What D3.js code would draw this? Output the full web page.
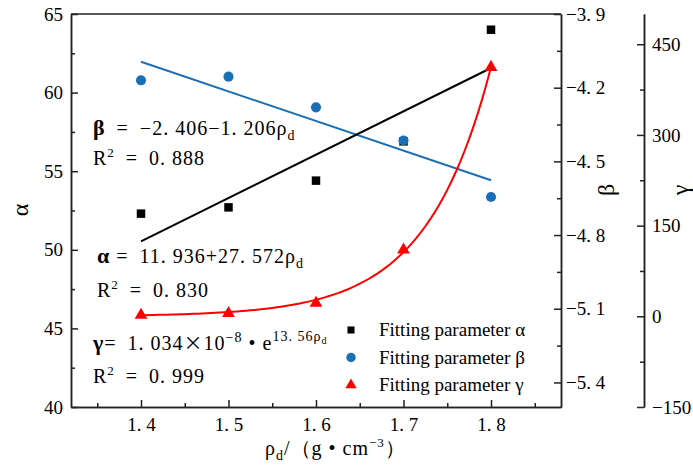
<!DOCTYPE html>
<html>
<head>
<meta charset="utf-8">
<script src="https://cdn.jsdelivr.net/npm/d3@7"></script>
<style>
  body { margin: 0; background: #fff; }
  text { font-family: "Liberation Serif", "DejaVu Serif", serif; fill: #000; }
</style>
</head>
<body>
<div id="chart"></div>
<script>
const density = [1.4, 1.5, 1.6, 1.7, 1.8];
const alphaVals = [52.3, 52.7, 54.4, 56.9, 64.0];
const betaVals = [-4.17, -4.155, -4.28, -4.415, -4.645];
const gammaVals = [2, 5, 22, 110, 412];

const alphaFit = [11.936, 27.572];
const betaFit = [-2.406, -1.206];
const gammaFit = [1.034e-8, 13.56];

const xTicks = [1.4, 1.5, 1.6, 1.7, 1.8];
const xMinor = [1.35, 1.45, 1.55, 1.65, 1.75, 1.85];
const alphaTicks = [40, 45, 50, 55, 60, 65];
const alphaMinor = [42.5, 47.5, 52.5, 57.5, 62.5];
const betaTicks = [-3.9, -4.2, -4.5, -4.8, -5.1, -5.4];
const betaMinor = [-4.05, -4.35, -4.65, -4.95, -5.25];
const gammaTicks = [-150, 0, 150, 300, 450];
const gammaMinor = [-75, 75, 225, 375];

const W = 693, H = 469;
const L = 71, R = 561, T = 14, B = 407;
const blue = "#1a6fb5", red = "#ff0000";

const svg = d3.select("#chart").append("svg")
  .attr("width", W)
  .attr("height", H);

const x = d3.scaleLinear().domain([1.32, 1.88]).range([L, R]);
const yA = d3.scaleLinear().domain([40, 65]).range([B, T]);
const yB = d3.scaleLinear().domain([-5.5, -3.9]).range([B, T]);
const yG = d3.scaleLinear().domain([-150, 500]).range([B, T]);

const fmt1 = (d) => d3.format(".1f")(d).replace(".", ". ");

const styleAxis = (g) => {
  g.selectAll("path, line").attr("stroke", "#222").attr("stroke-width", 1.5);
  g.selectAll("text").attr("font-size", 19).attr("fill", "#222");
};

// bottom
svg.append("g").attr("transform", `translate(0,${B})`)
  .call(d3.axisBottom(x).tickValues(xTicks).tickSize(-7).tickSizeOuter(0).tickPadding(11).tickFormat(fmt1))
  .call(styleAxis);
svg.append("g").attr("transform", `translate(0,${B})`)
  .call(d3.axisBottom(x).tickValues(xMinor).tickSize(-4).tickSizeOuter(0).tickFormat(""))
  .call(styleAxis);

// left alpha
svg.append("g").attr("transform", `translate(${L},0)`)
  .call(d3.axisLeft(yA).tickValues(alphaTicks).tickSize(-7).tickSizeOuter(0).tickPadding(8))
  .call(styleAxis);
svg.append("g").attr("transform", `translate(${L},0)`)
  .call(d3.axisLeft(yA).tickValues(alphaMinor).tickSize(-4).tickSizeOuter(0).tickFormat(""))
  .call(styleAxis);

// right beta
svg.append("g").attr("transform", `translate(${R},0)`)
  .call(d3.axisRight(yB).tickValues(betaTicks).tickSize(-7).tickSizeOuter(0).tickPadding(5).tickFormat(fmt1))
  .call(styleAxis);
svg.append("g").attr("transform", `translate(${R},0)`)
  .call(d3.axisRight(yB).tickValues(betaMinor).tickSize(-4).tickSizeOuter(0).tickFormat(""))
  .call(styleAxis);

// offset gamma axis
const gx = 644;
svg.append("g").attr("transform", `translate(${gx},0)`)
  .call(d3.axisRight(yG).tickValues(gammaTicks).tickSize(-7).tickSizeOuter(0).tickPadding(8).tickFormat(d3.format("d")))
  .call(styleAxis);
svg.append("g").attr("transform", `translate(${gx},0)`)
  .call(d3.axisRight(yG).tickValues(gammaMinor).tickSize(-4).tickSizeOuter(0).tickFormat(""))
  .call(styleAxis);

svg.append("line")
  .attr("x1", L).attr("x2", R).attr("y1", T).attr("y2", T)
  .attr("stroke", "#222").attr("stroke-width", 1.5);

// axis titles
svg.append("text").attr("transform", "translate(28,210) rotate(-90)")
  .attr("text-anchor", "middle").attr("font-size", 24).text("α");
svg.append("text").attr("transform", "translate(614,190) rotate(-90)")
  .attr("text-anchor", "middle").attr("font-size", 24).text("β");
svg.append("text").attr("transform", "translate(688,190) rotate(-90)")
  .attr("text-anchor", "middle").attr("font-size", 24).text("γ");

const xt = svg.append("text").attr("x", 265).attr("y", 455).attr("font-size", 20)
  .attr("letter-spacing", 1);
xt.append("tspan").text("ρ");
xt.append("tspan").attr("dy", 5).attr("font-size", 14).text("d");
xt.append("tspan").attr("dy", -5).text("/（g • cm");
xt.append("tspan").attr("dy", -8).attr("font-size", 13).text("−3");
xt.append("tspan").attr("dy", 8).text("）");

// fit lines
const fitLine = d3.line().x((d) => x(d[0])).y((d) => d[1]);
const ends = [density[0], density[density.length - 1]];

svg.append("path")
  .datum(ends.map((r) => [r, yB(betaFit[0] + betaFit[1] * r)]))
  .attr("d", fitLine).attr("fill", "none").attr("stroke", blue).attr("stroke-width", 2);

svg.append("path")
  .datum(ends.map((r) => [r, yA(alphaFit[0] + alphaFit[1] * r)]))
  .attr("d", fitLine).attr("fill", "none").attr("stroke", "#000").attr("stroke-width", 2);

const gRange = d3.range(ends[0], ends[1] + 0.0001, 0.005);
svg.append("path")
  .datum(gRange.map((r) => [r, yG(gammaFit[0] * Math.exp(gammaFit[1] * r))]))
  .attr("d", fitLine).attr("fill", "none").attr("stroke", red).attr("stroke-width", 2);

// markers
const sq = d3.symbol().type(d3.symbolSquare).size(72);
const circ = d3.symbol().type(d3.symbolCircle).size(80);
const tri = d3.symbol().type(d3.symbolTriangle).size(70);

svg.append("g").selectAll("path")
  .data(density.map((r, i) => [r, alphaVals[i]]))
  .join("path")
  .attr("d", sq)
  .attr("transform", (d) => `translate(${x(d[0])},${yA(d[1])})`)
  .attr("fill", "#000");

svg.append("g").selectAll("path")
  .data(density.map((r, i) => [r, betaVals[i]]))
  .join("path")
  .attr("d", circ)
  .attr("transform", (d) => `translate(${x(d[0])},${yB(d[1])})`)
  .attr("fill", blue);

svg.append("g").selectAll("path")
  .data(density.map((r, i) => [r, gammaVals[i]]))
  .join("path")
  .attr("d", tri)
  .attr("transform", (d) => `translate(${x(d[0])},${yG(d[1])})`)
  .attr("fill", red);

// equations
const rich = (px, py, parts) => {
  const t = svg.append("text").attr("x", px).attr("y", py).attr("font-size", 20)
    .attr("letter-spacing", 1)
    .style("white-space", "pre");
  parts.forEach((p) => {
    t.append("tspan")
      .attr("dy", p.dy || 0)
      .attr("font-size", p.size || 20)
      .attr("font-weight", p.bold ? "bold" : null)
      .attr("font-family", p.cjk ? "'Noto Sans CJK SC'" : null)
      .text(p.t);
  });
};

rich(93, 135, [
  { t: "β", bold: true, size: 22 }, { t: "\u2002=\u2002−2. 406−1. 206ρ" },
  { t: "d", dy: 5, size: 14 }
]);
rich(93, 165, [
  { t: "R" }, { t: "2", dy: -8, size: 13 }, { t: "\u2002=\u20020. 888", dy: 8 }
]);
rich(97, 263, [
  { t: "α", bold: true, size: 22 }, { t: " =\u200211. 936+27. 572ρ" },
  { t: "d", dy: 5, size: 14 }
]);
rich(97, 297, [
  { t: "R" }, { t: "2", dy: -8, size: 13 }, { t: "\u2002=\u20020. 830", dy: 8 }
]);
rich(93, 350, [
  { t: "γ", bold: true, size: 22 }, { t: "=\u20021. 034" }, { t: "×", cjk: true, size: 19 }, { t: "10" },
  { t: "−8", dy: -8, size: 14 }, { t: " • e", dy: 8 },
  { t: "13. 56ρ", dy: -9, size: 14 }, { t: "d", dy: 3, size: 10 }
]);
rich(93, 383, [
  { t: "R" }, { t: "2", dy: -8, size: 13 }, { t: "\u2002=\u20020. 999", dy: 8 }
]);

// legend
const legendItems = [
  { label: "Fitting parameter α", sym: d3.symbol().type(d3.symbolSquare).size(50), color: "#000" },
  { label: "Fitting parameter β", sym: d3.symbol().type(d3.symbolCircle).size(70), color: blue },
  { label: "Fitting parameter γ", sym: d3.symbol().type(d3.symbolTriangle).size(55), color: red }
];

const lg = svg.append("g").attr("transform", "translate(351,330)");
const row = lg.selectAll("g").data(legendItems).join("g")
  .attr("transform", (d, i) => `translate(0,${i * 27.5})`);
row.append("path").attr("d", (d) => d.sym()).attr("fill", (d) => d.color);
row.append("text").attr("x", 28).attr("y", 6).attr("font-size", 19).text((d) => d.label);
</script>
</body>
</html>
